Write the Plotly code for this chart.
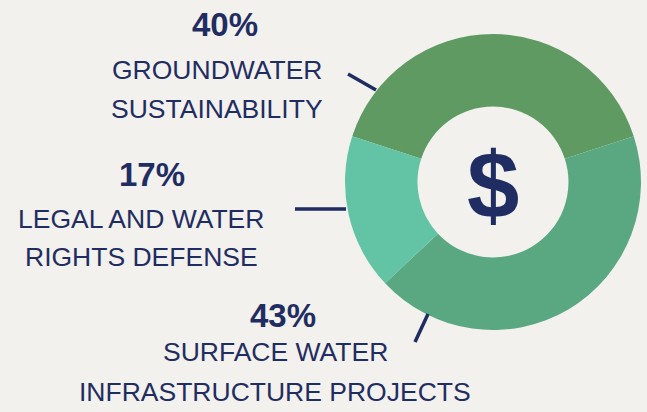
import plotly.graph_objects as go

categories = ["GROUNDWATER SUSTAINABILITY", "SURFACE WATER INFRASTRUCTURE PROJECTS", "LEGAL AND WATER RIGHTS DEFENSE"]
values = [40, 43, 17]
colors = ["#5f9a62", "#5aa882", "#63c4a5"]
label_lines = [["GROUNDWATER", "SUSTAINABILITY"], ["SURFACE WATER", "INFRASTRUCTURE PROJECTS"], ["LEGAL AND WATER", "RIGHTS DEFENSE"]]

W, H = 647, 412
NAVY = "#1f2d62"
BG = "#f3f1ed"
FONT = "Liberation Sans"

cx, cy, r = 493, 182, 148

def px(x):
    return x / W

def py(y):
    return 1 - y / H

fig = go.Figure()
fig.add_trace(go.Pie(
    labels=categories, values=values, sort=False, direction="clockwise",
    rotation=-72, hole=0.51, marker=dict(colors=colors, line=dict(width=0)),
    textinfo="none", hoverinfo="label+percent", showlegend=False,
    domain=dict(x=[px(cx - r), px(cx + r)], y=[py(cy + r), py(cy - r)]),
))

annotations = []
annotations.append(dict(x=px(cx), y=py(cy + 3), xref="paper", yref="paper", text="<b>$</b>",
                        xanchor="center", yanchor="middle",
                        showarrow=False, font=dict(family=FONT, size=94, color=NAVY)))

blocks = [
    (25, 70, 109, 225, 217),
    (315, 352, 392, 283, 275),
    (175, 219, 257, 152, 141),
]
for (yp, y1, y2, xp, xl), v, lines in zip(blocks, values, label_lines):
    annotations.append(dict(x=px(xp), y=py(yp), xref="paper", yref="paper", text=f"<b>{v}%</b>",
                            xanchor="center", yanchor="middle",
                            showarrow=False, font=dict(family=FONT, size=33, color=NAVY)))
    for yy, t in ((y1, lines[0]), (y2, lines[1])):
        annotations.append(dict(x=px(xl), y=py(yy), xref="paper", yref="paper", text=t,
                                xanchor="center", yanchor="middle",
                                showarrow=False, font=dict(family=FONT, size=26.5, color=NAVY)))

shapes = []
for (x0, y0, x1, y1) in [(348, 74, 376, 90), (295, 209, 346, 209), (428, 314, 415, 342)]:
    shapes.append(dict(type="line", xref="paper", yref="paper", x0=px(x0), y0=py(y0), x1=px(x1), y1=py(y1),
                       line=dict(color=NAVY, width=3.5)))

fig.update_layout(width=W, height=H, margin=dict(l=0, r=0, t=0, b=0),
                  paper_bgcolor=BG, plot_bgcolor=BG, annotations=annotations, shapes=shapes)
fig.write_html("out.html", config={"displayModeBar": False})

with open("out.html", encoding="utf-8") as f:
    html = f.read()
html = html.replace("<body>", '<body style="margin:0;padding:0;">', 1)
with open("out.html", "w", encoding="utf-8") as f:
    f.write(html)
